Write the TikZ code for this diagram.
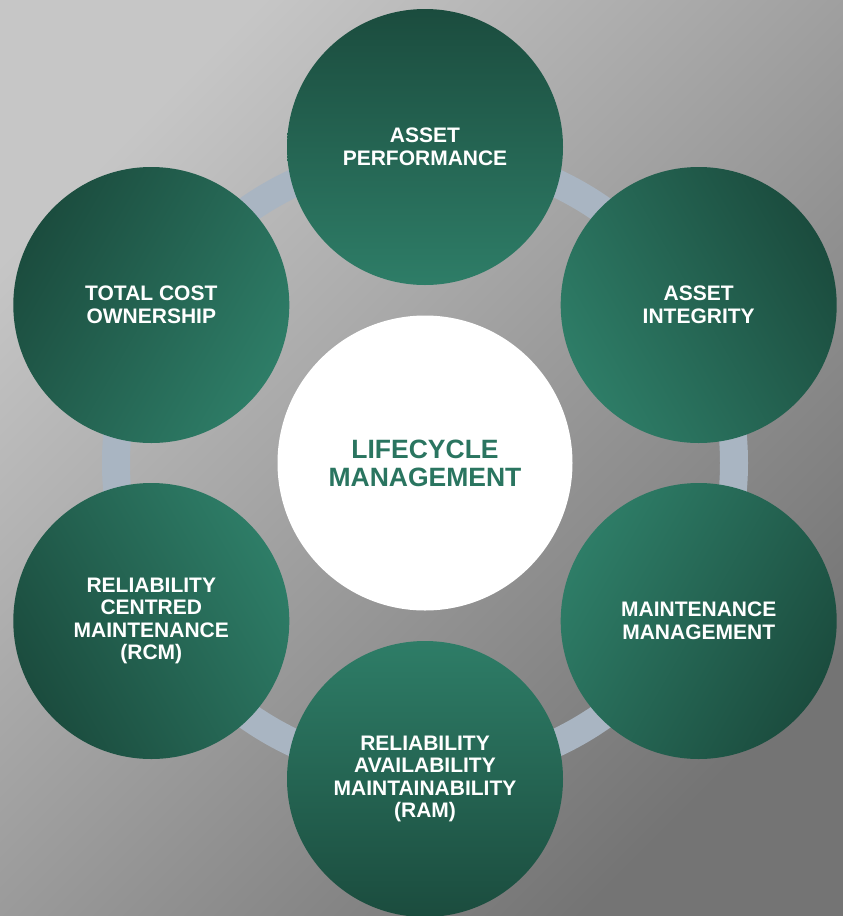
\documentclass[tikz,border=0pt]{standalone}
\usepackage{fontspec}
\setmainfont{Liberation Sans}
\definecolor{gdark}{HTML}{1B4C3E}
\definecolor{glight}{HTML}{2E7D67}
\definecolor{ringc}{HTML}{A9B5C2}
\definecolor{bglight}{HTML}{C6C6C6}
\definecolor{bgdark}{HTML}{747474}
\definecolor{ctext}{HTML}{2A7560}
\tikzset{
  sat/.style={circle, minimum size=276pt, inner sep=0pt, top color=gdark, bottom color=glight,
    text=white, align=center, font=\bfseries\fontsize{21}{22.5}\selectfont},
  hub/.style={circle, minimum size=295pt, inner sep=0pt, fill=white, text=ctext, align=center,
    font=\bfseries\fontsize{26.5}{28}\selectfont},
  ringline/.style={draw=ringc, line width=28pt}
}
\begin{document}
\begin{tikzpicture}[x=1pt,y=-1pt]
\shade[top color=bglight, bottom color=bgdark, shading angle=45] (0,0) rectangle (843,916);
\useasboundingbox (0,0) rectangle (843,916);
\coordinate (c) at (425,463);
\draw[ringline] (c) circle[radius=309];
\node[hub] (hub) at (c) {LIFECYCLE\\MANAGEMENT};
\node[sat, shading angle=0] (ap) at (425,147) {ASSET\\PERFORMANCE};
\node[sat, shading angle=-60] (ai) at (698.7,305) {ASSET\\INTEGRITY};
\node[sat, shading angle=-120] (mm) at (698.7,621) {MAINTENANCE\\MANAGEMENT};
\node[sat, shading angle=180] (ram) at (425,779) {RELIABILITY\\AVAILABILITY\\MAINTAINABILITY\\(RAM)};
\node[sat, shading angle=120] (rcm) at (151.3,621) {RELIABILITY\\CENTRED\\MAINTENANCE\\(RCM)};
\node[sat, shading angle=60] (tco) at (151.3,305) {TOTAL COST\\OWNERSHIP};
\end{tikzpicture}
\end{document}
